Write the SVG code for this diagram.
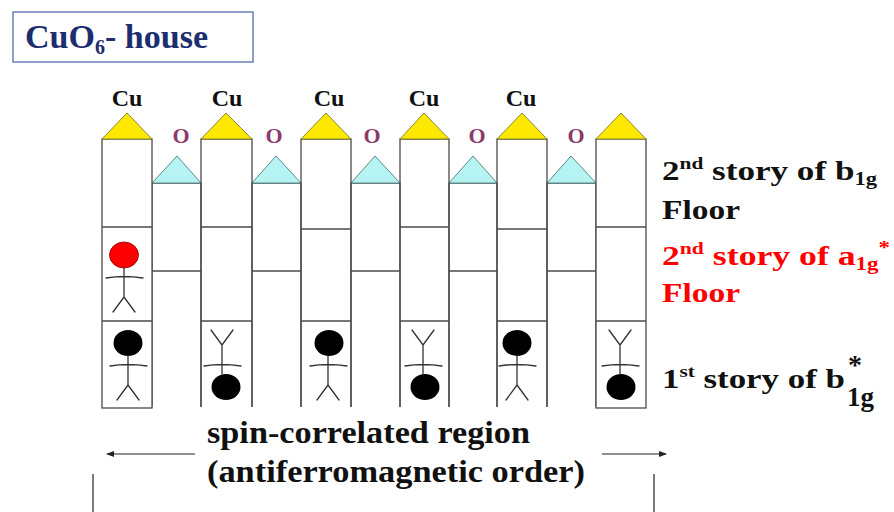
<svg xmlns="http://www.w3.org/2000/svg" xmlns:xlink="http://www.w3.org/1999/xlink" width="894" height="512" viewBox="0 0 894 512">
  <style>
    .wall { fill: #ffffff; stroke: #4a4a4a; stroke-width: 1.3; }
    .ln { fill: none; stroke: #4a4a4a; stroke-width: 1.3; }
    .cu-roof { fill: #ffe800; stroke: #8a8a30; stroke-width: 1; }
    .o-roof { fill: #b6f4f4; stroke: #5a8a8a; stroke-width: 1; }
    text { font-family: 'Times New Roman', Times, 'Liberation Serif', 'DejaVu Serif', serif; font-weight: bold; }
    .cu { font-size: 24px; fill: #111111; text-anchor: middle; }
    .ox { font-size: 22px; fill: #8b3a6b; text-anchor: middle; }
    .lbl { font-size: 28px; fill: #111111; }
    .red { fill: #ff0000; }
    .limb { fill: none; stroke: #333333; stroke-width: 1.3; stroke-linecap: round; }
    .arrow { fill: none; stroke: #222222; stroke-width: 1.2; }
  </style>
  <defs>
    <!-- stick-figure body, head centre at origin, standing upright -->
    <g id="bodyUp">
      <path class="limb" d="M0,13 V42 M-18,23 Q0,20 19,23 M0,42 L-11,57 M0,42 L11,57"/>
    </g>
    <!-- same body, upside down -->
    <g id="bodyDown">
      <path class="limb" d="M0,-13 V-42 M-18,-21 Q0,-24 19,-21 M0,-42 L-11,-57 M0,-42 L11,-57"/>
    </g>
    <marker id="head" markerWidth="8" markerHeight="6" refX="7" refY="3" orient="auto" markerUnits="userSpaceOnUse">
      <path d="M0,0 L8,3 L0,6 Z" fill="#222222"/>
    </marker>
  </defs>

  <rect width="894" height="512" fill="#ffffff"/>

  <!-- title box -->
  <g id="title">
    <rect x="13" y="12" width="240" height="50" fill="#ffffff" stroke="#6a7fb5" stroke-width="1.5"/>
    <text x="25" y="48" font-size="34" fill="#1c2e6e" textLength="183" lengthAdjust="spacingAndGlyphs">CuO<tspan font-size="20" dy="6">6</tspan><tspan dy="-6">- house</tspan></text>
  </g>

  <!-- O columns (lower houses, open at the bottom) -->
  <g id="o-col-1">
    <path class="ln" d="M152,407 V183 H201 V407"/>
    <line class="ln" x1="152" y1="271" x2="201" y2="271"/>
    <polygon class="o-roof" points="152,183 177,156 201,183"/>
  </g>
  <g id="o-col-2">
    <path class="ln" d="M252,407 V183 H301 V407"/>
    <line class="ln" x1="252" y1="271" x2="301" y2="271"/>
    <polygon class="o-roof" points="252,183 276,156 301,183"/>
  </g>
  <g id="o-col-3">
    <path class="ln" d="M351,407 V183 H400 V407"/>
    <line class="ln" x1="351" y1="271" x2="400" y2="271"/>
    <polygon class="o-roof" points="351,183 375,156 400,183"/>
  </g>
  <g id="o-col-4">
    <path class="ln" d="M449,407 V183 H497 V407"/>
    <line class="ln" x1="449" y1="271" x2="497" y2="271"/>
    <polygon class="o-roof" points="449,183 473,156 497,183"/>
  </g>
  <g id="o-col-5">
    <path class="ln" d="M547,407 V183 H596 V407"/>
    <line class="ln" x1="547" y1="271" x2="596" y2="271"/>
    <polygon class="o-roof" points="547,183 571,156 596,183"/>
  </g>

  <!-- Cu columns (tall houses) -->
  <g id="cu-col-1">
    <rect class="wall" x="102" y="139" width="50" height="269"/>
    <line class="ln" x1="102" y1="227" x2="152" y2="227"/>
    <line class="ln" x1="102" y1="321" x2="152" y2="321"/>
    <polygon class="cu-roof" points="102,139 127,113 152,139"/>
  </g>
  <g id="cu-col-2">
    <path class="ln" d="M201,407 V139 H252 V407"/>
    <line class="ln" x1="201" y1="227" x2="252" y2="227"/>
    <line class="ln" x1="201" y1="321" x2="252" y2="321"/>
    <polygon class="cu-roof" points="201,139 226,113 252,139"/>
  </g>
  <g id="cu-col-3">
    <path class="ln" d="M301,407 V139 H351 V407"/>
    <line class="ln" x1="301" y1="229" x2="351" y2="229"/>
    <line class="ln" x1="301" y1="321" x2="351" y2="321"/>
    <polygon class="cu-roof" points="301,139 326,113 351,139"/>
  </g>
  <g id="cu-col-4">
    <path class="ln" d="M400,407 V139 H449 V407"/>
    <line class="ln" x1="400" y1="227" x2="449" y2="227"/>
    <line class="ln" x1="400" y1="321" x2="449" y2="321"/>
    <polygon class="cu-roof" points="400,139 424,113 449,139"/>
  </g>
  <g id="cu-col-5">
    <path class="ln" d="M497,407 V139 H547 V407"/>
    <line class="ln" x1="497" y1="229" x2="547" y2="229"/>
    <line class="ln" x1="497" y1="321" x2="547" y2="321"/>
    <polygon class="cu-roof" points="497,139 522,113 547,139"/>
  </g>
  <g id="cu-col-6">
    <rect class="wall" x="596" y="139" width="50" height="269"/>
    <line class="ln" x1="596" y1="227" x2="646" y2="227"/>
    <line class="ln" x1="596" y1="321" x2="646" y2="321"/>
    <polygon class="cu-roof" points="596,139 621,113 646,139"/>
  </g>

  <!-- atom labels -->
  <g id="atom-labels">
    <text class="cu" x="127" y="106">Cu</text>
    <text class="cu" x="227" y="106">Cu</text>
    <text class="cu" x="329" y="106">Cu</text>
    <text class="cu" x="424" y="106">Cu</text>
    <text class="cu" x="521" y="106">Cu</text>
    <text class="ox" x="181" y="143">O</text>
    <text class="ox" x="274" y="143">O</text>
    <text class="ox" x="372" y="143">O</text>
    <text class="ox" x="477" y="143">O</text>
    <text class="ox" x="576" y="143">O</text>
  </g>

  <!-- electrons as stick figures -->
  <g id="electron-excited">
    <ellipse cx="124" cy="255" rx="14.5" ry="13" fill="#ff0000" stroke="#8a0000" stroke-width="0.8"/>
    <use xlink:href="#bodyUp" x="124" y="255"/>
  </g>
  <g id="electron-1">
    <ellipse cx="128" cy="343" rx="14.5" ry="13" fill="#000000"/>
    <use xlink:href="#bodyUp" x="128" y="343"/>
  </g>
  <g id="electron-2">
    <ellipse cx="226" cy="387" rx="14.5" ry="13" fill="#000000"/>
    <use xlink:href="#bodyDown" x="222" y="387"/>
  </g>
  <g id="electron-3">
    <ellipse cx="329" cy="343" rx="14.5" ry="13" fill="#000000"/>
    <use xlink:href="#bodyUp" x="328" y="343"/>
  </g>
  <g id="electron-4">
    <ellipse cx="425" cy="387" rx="14.5" ry="13" fill="#000000"/>
    <use xlink:href="#bodyDown" x="423" y="387"/>
  </g>
  <g id="electron-5">
    <ellipse cx="517" cy="343" rx="14.5" ry="13" fill="#000000"/>
    <use xlink:href="#bodyUp" x="517" y="343"/>
  </g>
  <g id="electron-6">
    <ellipse cx="621" cy="387" rx="14.5" ry="13" fill="#000000"/>
    <use xlink:href="#bodyDown" x="620" y="387"/>
  </g>

  <!-- level labels on the right -->
  <g id="level-labels">
    <text class="lbl" x="662" y="180" textLength="215" lengthAdjust="spacingAndGlyphs">2<tspan font-size="17" dy="-11">nd</tspan><tspan dy="11"> story of b</tspan><tspan font-size="18" dy="5">1g</tspan></text>
    <text class="lbl" x="662" y="219" textLength="78" lengthAdjust="spacingAndGlyphs">Floor</text>
    <text class="lbl red" x="662" y="265" textLength="228" lengthAdjust="spacingAndGlyphs">2<tspan font-size="17" dy="-11">nd</tspan><tspan dy="11"> story of a</tspan><tspan font-size="18" dy="5">1g</tspan><tspan font-size="18" dy="-16">*</tspan></text>
    <text class="lbl red" x="662" y="302" textLength="78" lengthAdjust="spacingAndGlyphs">Floor</text>
    <text class="lbl" x="662" y="388" textLength="183" lengthAdjust="spacingAndGlyphs">1<tspan font-size="17" dy="-11">st</tspan><tspan dy="11"> story of b</tspan></text>
    <text class="lbl" x="848" y="374" font-size="18">*</text>
    <text class="lbl" x="847" y="406" font-size="18" textLength="27" lengthAdjust="spacingAndGlyphs">1g</text>
  </g>

  <!-- region caption -->
  <g id="region-caption" font-size="31" fill="#111111">
    <text x="207" y="443" textLength="323" lengthAdjust="spacingAndGlyphs">spin-correlated region</text>
    <text x="207" y="482" textLength="378" lengthAdjust="spacingAndGlyphs">(antiferromagnetic order)</text>
  </g>

  <!-- extent arrows -->
  <g id="connectors">
    <line class="arrow" x1="195" y1="454" x2="107" y2="454" marker-end="url(#head)"/>
    <line class="arrow" x1="602" y1="454" x2="666" y2="454" marker-end="url(#head)"/>
    <line class="arrow" x1="93" y1="474" x2="93" y2="512"/>
    <line class="arrow" x1="654" y1="474" x2="654" y2="512"/>
  </g>
</svg>
